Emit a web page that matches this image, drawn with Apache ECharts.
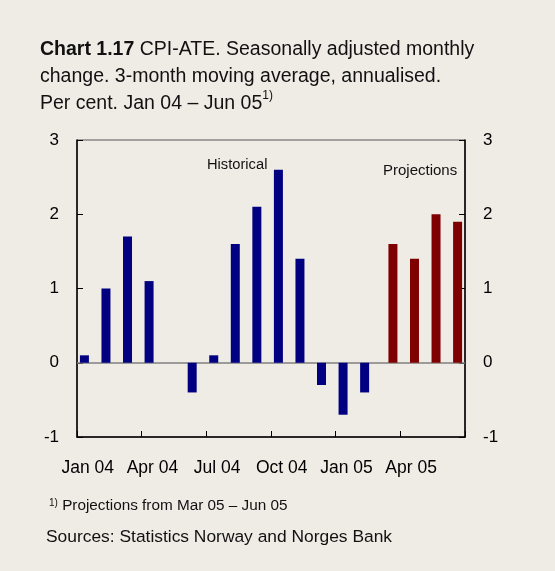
<!DOCTYPE html>
<html>
<head>
<meta charset="utf-8">
<script src="https://cdn.jsdelivr.net/npm/echarts@6/dist/echarts.min.js"></script>
<style>
	html, body { margin: 0; padding: 0; background: #efece6; }
	#chart { width: 555px; height: 571px; }
</style>
</head>
<body>
<div id="chart"></div>
<script>
// months Jan 04 - Jun 05
var months = ['Jan 04', 'Feb 04', 'Mar 04', 'Apr 04', 'May 04', 'Jun 04', 'Jul 04', 'Aug 04', 'Sep 04',
	'Oct 04', 'Nov 04', 'Dec 04', 'Jan 05', 'Feb 05', 'Mar 05', 'Apr 05', 'May 05', 'Jun 05'];
// historical values, '-' where projection
var historical = [0.1, 1.0, 1.7, 1.1, 0, -0.4, 0.1, 1.6, 2.1, 2.6, 1.4, -0.3, -0.7, -0.4, '-', '-', '-', '-'];
// projections Mar 05 - Jun 05
var projections = ['-', '-', '-', '-', '-', '-', '-', '-', '-', '-', '-', '-', '-', '-', 1.6, 1.4, 2.0, 1.9];
var yTicks = [-1, 0, 1, 2, 3];

var font = 'Arial, "Liberation Sans", sans-serif';

function yAxisCfg(pos) {
	return {
		type: 'value',
		position: pos,
		min: yTicks[0],
		max: yTicks[yTicks.length - 1],
		interval: 1,
		axisLine: { show: true, lineStyle: { color: '#000', width: 1.5 } },
		axisTick: { show: true, inside: true, length: 6, lineStyle: { color: '#000' } },
		axisLabel: { color: '#000', fontSize: 17, fontFamily: font, margin: 18 },
		splitLine: { show: false }
	};
}

var chart = echarts.init(document.getElementById('chart'));
var option = {
	backgroundColor: '#efece6',
	animation: false,
	grid: {
		left: 77,
		right: 90,
		top: 140,
		bottom: 134,
		show: true,
		borderColor: '#555',
		borderWidth: 1,
		backgroundColor: 'transparent'
	},
	xAxis: {
		type: 'category',
		data: months,
		boundaryGap: true,
		axisLine: { show: true, onZero: false, lineStyle: { color: '#000', width: 1.5 } },
		axisTick: { show: true, inside: true, length: 6, interval: 2, alignWithLabel: false, lineStyle: { color: '#000' } },
		axisLabel: { interval: 2, color: '#000', fontSize: 17.5, fontFamily: font, margin: 22 },
		splitLine: { show: false }
	},
	yAxis: [yAxisCfg('left'), yAxisCfg('right')],
	series: [
		{
			name: 'Historical',
			type: 'bar',
			data: historical,
			barWidth: 9,
			barGap: '-25%',
			itemStyle: { color: '#000080' },
			markLine: {
				silent: true,
				symbol: 'none',
				label: { show: false },
				lineStyle: { color: '#808080', width: 1.5, type: 'solid' },
				data: [{ yAxis: 0 }],
				z: 1
			}
		},
		{
			name: 'Projections',
			type: 'bar',
			data: projections,
			barWidth: 9,
			itemStyle: { color: '#7f0000' }
		}
	],
	graphic: [
		{
			type: 'text',
			left: 40,
			top: 36,
			style: {
				text: '{b|Chart 1.17} CPI-ATE. Seasonally adjusted monthly\nchange. 3-month moving average, annualised.\nPer cent. Jan 04 – Jun 05{sup|1)}',
				font: '19.5px ' + font,
				fill: '#111',
				lineHeight: 27,
				rich: {
					b: { fontWeight: 'bold', fontSize: 19.5, fontFamily: font, fill: '#111' },
					sup: { fontSize: 12, fontFamily: font, verticalAlign: 'top', fill: '#111' }
				}
			}
		},
		{
			type: 'text',
			left: 207,
			top: 157,
			style: { text: 'Historical', font: '14.7px ' + font, fill: '#111' }
		},
		{
			type: 'text',
			left: 383,
			top: 163,
			style: { text: 'Projections', font: '15px ' + font, fill: '#111' }
		},
		{
			type: 'text',
			left: 49,
			top: 498,
			style: {
				text: '{sup|1)} Projections from Mar 05 – Jun 05',
				font: '15.3px ' + font,
				fill: '#111',
				rich: {
					sup: { fontSize: 10, fontFamily: font, verticalAlign: 'top', fill: '#111' }
				}
			}
		},
		{
			type: 'text',
			left: 46,
			top: 529,
			style: { text: 'Sources: Statistics Norway and Norges Bank', font: '17.4px ' + font, fill: '#111' }
		}
	]
};
chart.setOption(option);
window.addEventListener('resize', chart.resize);
</script>
</body>
</html>
